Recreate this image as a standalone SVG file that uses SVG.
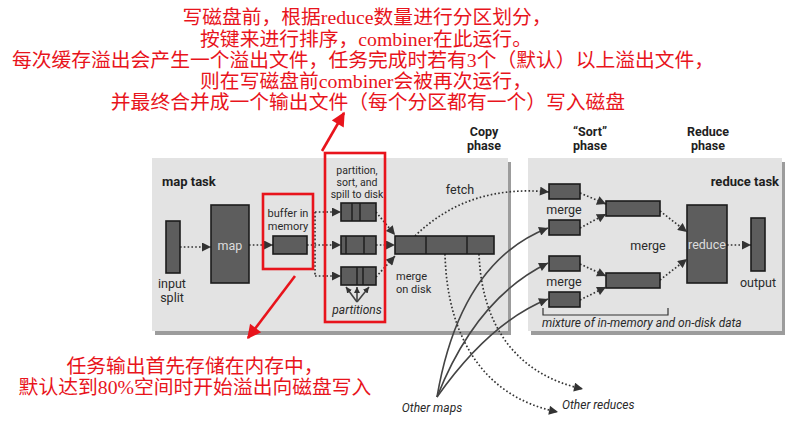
<svg xmlns="http://www.w3.org/2000/svg" width="793" height="425" viewBox="0 0 793 425">
<style>
.panel{fill:#e3e3e3}
.shadow{fill:#9c9c9c}
.blk{fill:#5d5d5d;stroke:#1c1c1c;stroke-width:1.6}
.div{stroke:#1c1c1c;stroke-width:1.4}
.lbl{font-family:"Liberation Sans Narrow","Roboto",sans-serif;font-size:12.5px;fill:#2a2a2a;text-anchor:middle}
.sm{font-size:11px}
.xs{font-size:10.5px}
.st{text-anchor:start}
.ttl{font-family:"Liberation Sans Narrow","Roboto",sans-serif;font-size:13px;font-weight:bold;fill:#1e1e1e}
.ph{font-family:"Liberation Sans Narrow","Roboto",sans-serif;font-size:12.5px;font-weight:bold;fill:#1e1e1e;text-anchor:middle}
.it{font-family:"Liberation Sans Narrow","Roboto",sans-serif;font-size:12px;font-style:italic;fill:#2a2a2a}
.inv{fill:#dcdcdc}
.dot{fill:none;stroke:#333;stroke-width:1.7;stroke-dasharray:1.6 2.2}
.sol{fill:none;stroke:#444;stroke-width:1.6}
.red{fill:none;stroke:#e8141c;stroke-width:2.6}
.rt{font-family:"Liberation Serif","Noto Sans CJK SC",serif;font-size:19.8px;fill:#e8141c;text-anchor:middle}
</style>
<defs>
<marker id="ah" markerUnits="userSpaceOnUse" markerWidth="10" markerHeight="9" viewBox="0 0 10 10" refX="10" refY="5" orient="auto"><path d="M0,0 L10,5 L0,10 z" fill="#333"/></marker>
<marker id="as" markerUnits="userSpaceOnUse" markerWidth="6" markerHeight="6" viewBox="0 0 10 10" refX="10" refY="5" orient="auto"><path d="M0,0 L10,5 L0,10 z" fill="#333"/></marker>
<marker id="ar" markerUnits="userSpaceOnUse" markerWidth="16" markerHeight="14" viewBox="0 0 10 10" refX="9" refY="5" orient="auto"><path d="M0,0 L10,5 L0,10 z" fill="#e8141c"/></marker>
</defs>
<rect width="793" height="425" fill="#ffffff"/>

<g id="map-task-panel">
<rect class="shadow" x="155" y="162" width="356" height="173"/>
<rect class="panel" x="152" y="158" width="356" height="173"/>
<text class="ttl" x="162" y="186">map task</text>
</g>
<g id="reduce-task-panel">
<rect class="shadow" x="531" y="162" width="254" height="173"/>
<rect class="panel" x="528" y="158" width="254" height="173"/>
<text class="ttl" x="779" y="186" text-anchor="end">reduce task</text>
</g>

<g id="phase-labels">
<text class="ph" x="484" y="136">Copy</text><text class="ph" x="484" y="150">phase</text>
<text class="ph" x="590" y="136">“Sort”</text><text class="ph" x="590" y="150">phase</text>
<text class="ph" x="708" y="136">Reduce</text><text class="ph" x="708" y="150">phase</text>
</g>

<g id="connectors">
<path class="dot" d="M180,247 H211" marker-end="url(#ah)"/>
<path class="dot" d="M249,245 H273" marker-end="url(#ah)"/>
<path class="dot" d="M307,245 H341" marker-end="url(#ah)"/>
<path class="dot" d="M315,212 V276"/>
<path class="dot" d="M315,212 H341" marker-end="url(#ah)"/>
<path class="dot" d="M315,276 H341" marker-end="url(#ah)"/>
<path class="dot" d="M376,212 L395,235" marker-end="url(#ah)"/>
<path class="dot" d="M376,245 H395" marker-end="url(#ah)"/>
<path class="dot" d="M376,277 L395,256" marker-end="url(#ah)"/>
<path class="sol" stroke-width="1.2" d="M357,302 L346,287" marker-end="url(#as)"/>
<path class="sol" stroke-width="1.2" d="M357,302 L357,287" marker-end="url(#as)"/>
<path class="sol" stroke-width="1.2" d="M357,302 L369,287" marker-end="url(#as)"/>
<path class="dot" d="M415,236 Q468,184 549,192" marker-end="url(#ah)"/>
<path class="dot" d="M580,193 L606,204" marker-end="url(#ah)"/>
<path class="dot" d="M580,228 L606,214" marker-end="url(#ah)"/>
<path class="dot" d="M580,264 L606,276" marker-end="url(#ah)"/>
<path class="dot" d="M580,300 L606,287" marker-end="url(#ah)"/>
<path class="dot" d="M660,211 L687,232" marker-end="url(#ah)"/>
<path class="dot" d="M660,280 L687,259" marker-end="url(#ah)"/>
<path class="dot" d="M727,245 H751" marker-end="url(#ah)"/>
<path class="sol" d="M437,397 Q460,262 548,228" marker-end="url(#ah)"/>
<path class="sol" d="M437,397 Q476,298 548,263" marker-end="url(#ah)"/>
<path class="sol" d="M437,397 Q490,322 548,299" marker-end="url(#ah)"/>
<path class="dot" d="M445,254 C447,335 482,397 558,412" marker-end="url(#ah)"/>
<path class="dot" d="M479,254 C482,332 522,376 583,389" marker-end="url(#ah)"/>
<path fill="none" stroke="#333" stroke-width="1.2" d="M543,308 V315 H668 V308"/>
</g>

<g id="input-split">
<rect class="blk" x="166" y="221" width="14" height="52"/>
<text class="lbl" x="172" y="288" font-size="14">input</text>
<text class="lbl" x="172" y="302" font-size="14">split</text>
</g>
<g id="map">
<rect class="blk" x="211" y="205" width="38" height="78"/>
<text class="lbl inv" x="230" y="250" font-size="14">map</text>
</g>
<g id="buffer-in-memory">
<rect class="blk" x="273" y="236" width="34" height="18"/>
<text class="lbl sm" x="288" y="217">buffer in</text>
<text class="lbl sm" x="288" y="229.5">memory</text>
</g>
<g id="spill-partitions">
<text class="lbl xs" x="357" y="173.5">partition,</text>
<text class="lbl xs" x="357" y="185.5">sort, and</text>
<text class="lbl xs" x="357" y="197.5">spill to disk</text>
<rect class="blk" x="341" y="203" width="35" height="18"/>
<path class="div" d="M352,203 V221 M360,203 V221"/>
<rect class="blk" x="341" y="236" width="35" height="18"/>
<path class="div" d="M346,236 V254 M364,236 V254"/>
<rect class="blk" x="341" y="267" width="35" height="18"/>
<path class="div" d="M357,267 V285 M363,267 V285"/>
<text class="it" x="357" y="314" text-anchor="middle">partitions</text>
</g>
<g id="merge-on-disk">
<rect class="blk" x="395" y="236" width="99" height="18"/>
<path class="div" d="M426,236 V254 M467,236 V254"/>
<text class="lbl sm st" x="396" y="280">merge</text>
<text class="lbl sm st" x="396" y="292.5">on disk</text>
<text class="lbl" x="460" y="194">fetch</text>
</g>
<g id="sort-merge">
<rect class="blk" x="549" y="184" width="31" height="15"/>
<rect class="blk" x="549" y="220" width="31" height="15"/>
<text class="lbl" x="564" y="214">merge</text>
<rect class="blk" x="549" y="256" width="31" height="15"/>
<rect class="blk" x="549" y="292" width="31" height="15"/>
<text class="lbl" x="564" y="286">merge</text>
</g>
<g id="merge-intermediate">
<rect class="blk" x="606" y="201" width="54" height="15"/>
<rect class="blk" x="606" y="273" width="54" height="15"/>
<text class="lbl" x="648" y="250">merge</text>
<text class="it" x="542" y="327" font-size="11.5">mixture of in-memory and on-disk data</text>
</g>
<g id="reduce">
<rect class="blk" x="687" y="205" width="40" height="78"/>
<text class="lbl inv" x="707" y="249" font-size="13.5">reduce</text>
</g>
<g id="output">
<rect class="blk" x="751" y="218" width="14" height="53"/>
<text class="lbl" x="758" y="287" font-size="13.5">output</text>
</g>
<g id="other-maps"><text class="it" x="432" y="412" text-anchor="middle">Other maps</text></g>
<g id="other-reduces"><text class="it" x="562" y="409">Other reduces</text></g>

<g id="annotations">
<rect class="red" x="263" y="194" width="50" height="75"/>
<rect class="red" x="325" y="153" width="60" height="169"/>
<path class="red" d="M322,151 L344,113" marker-end="url(#ar)"/>
<path class="red" d="M295,276 L248,338" marker-end="url(#ar)"/>
<text class="rt" x="367" y="24">写磁盘前，根据reduce数量进行分区划分，</text>
<text class="rt" x="366" y="46">按键来进行排序，combiner在此运行。</text>
<text class="rt" x="363" y="67">每次缓存溢出会产生一个溢出文件，任务完成时若有3个（默认）以上溢出文件，</text>
<text class="rt" x="366" y="88">则在写磁盘前combiner会被再次运行，</text>
<text class="rt" x="368" y="109">并最终合并成一个输出文件（每个分区都有一个）写入磁盘</text>
<text class="rt" x="195" y="373">任务输出首先存储在内存中，</text>
<text class="rt" x="195" y="394">默认达到80%空间时开始溢出向磁盘写入</text>
</g>
</svg>
